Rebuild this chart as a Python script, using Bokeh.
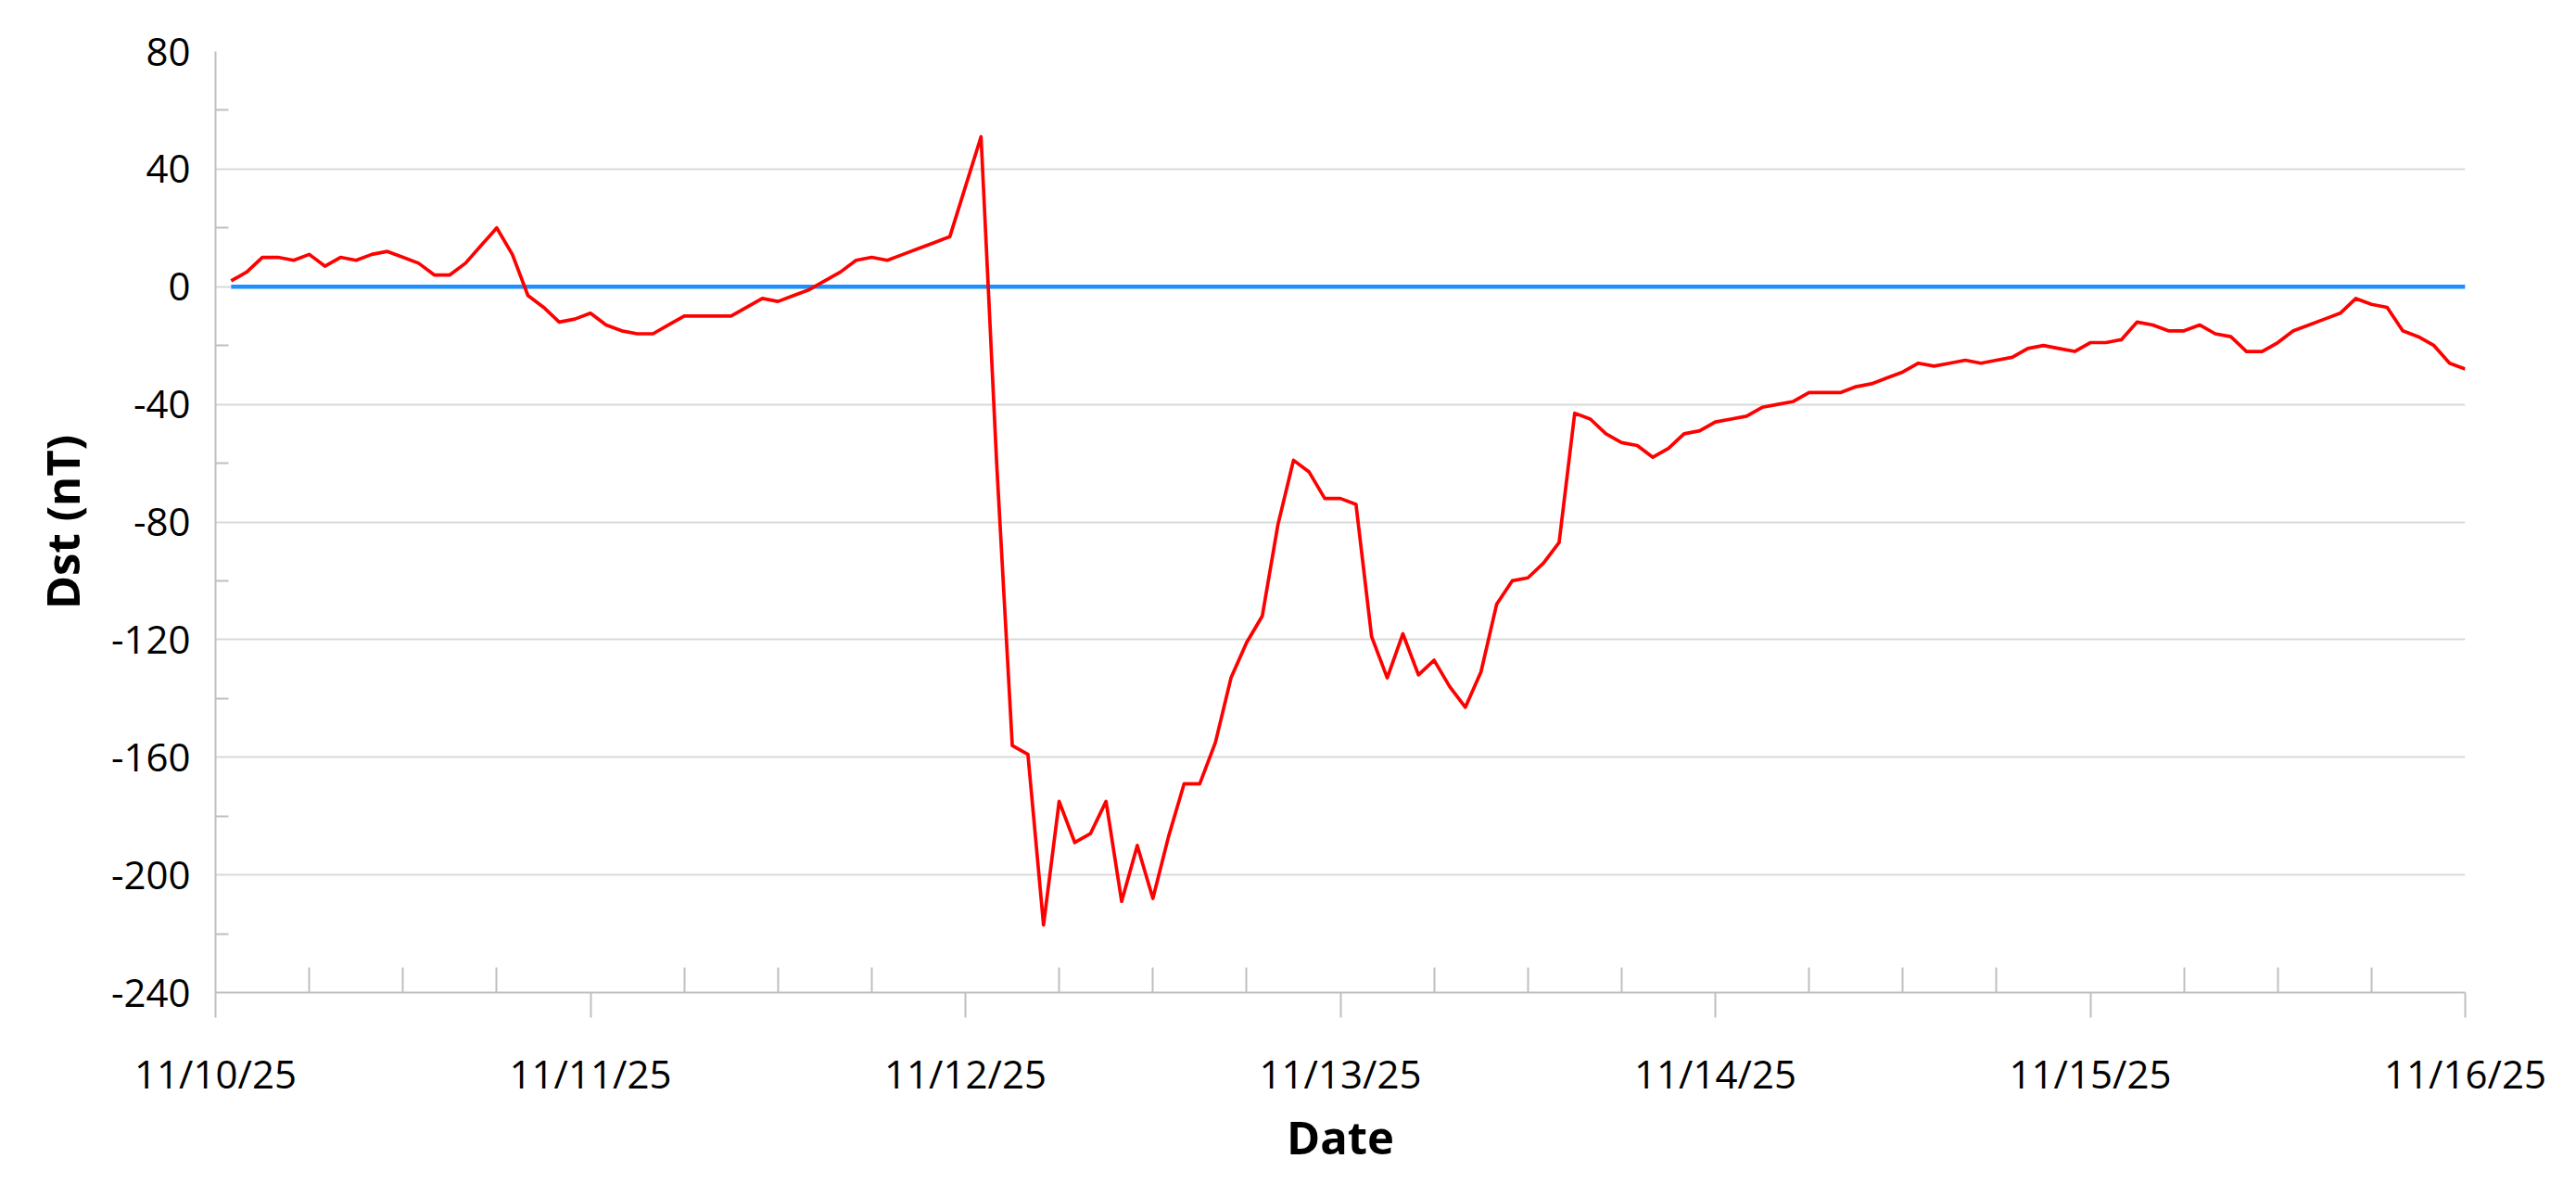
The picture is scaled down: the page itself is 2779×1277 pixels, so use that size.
import pandas as pd
from bokeh.plotting import figure
from bokeh.models import Range1d, FixedTicker, DatetimeTickFormatter, ColumnDataSource
from bokeh.embed import file_html
from bokeh.resources import INLINE

# Hourly Dst index (nT), first value at 2025-11-10 01:00 UT
first_hour = "2025-11-10 01:00"
dst = [
    2, 5, 10, 10, 9, 11, 7, 10, 9, 11, 12, 10,
    8, 4, 4, 8, 14, 20, 11, -3, -7, -12, -11, -9,
    -13, -15, -16, -16, -13, -10, -10, -10, -10, -7, -4, -5,
    -3, -1, 2, 5, 9, 10, 9, 11, 13, 15, 17, 34,
    51, -60, -156, -159, -217, -175, -189, -186, -175, -209, -190, -208,
    -187, -169, -169, -155, -133, -121, -112, -81, -59, -63, -72, -72,
    -74, -119, -133, -118, -132, -127, -136, -143, -131, -108, -100, -99,
    -94, -87, -43, -45, -50, -53, -54, -58, -55, -50, -49, -46,
    -45, -44, -41, -40, -39, -36, -36, -36, -34, -33, -31, -29,
    -26, -27, -26, -25, -26, -25, -24, -21, -20, -21, -22, -19,
    -19, -18, -12, -13, -15, -15, -13, -16, -17, -22, -22, -19,
    -15, -13, -11, -9, -4, -6, -7, -15, -17, -20, -26, -28,
]
baseline = [0] * len(dst)

day_labels = ["11/10/25", "11/11/25", "11/12/25", "11/13/25", "11/14/25", "11/15/25", "11/16/25"]
y_major = [-240, -200, -160, -120, -80, -40, 0, 40, 80]
y_minor = [-220, -180, -140, -100, -60, -20, 20, 60]

times = pd.date_range(first_hour, periods=len(dst), freq="h")
day_ts = [pd.Timestamp(pd.to_datetime(d, format="%m/%d/%y")) for d in day_labels]
day_ms = [t.timestamp() * 1000 for t in day_ts]
six_hourly = pd.date_range(day_ts[0], day_ts[-1], freq="6h")
minor_ms = [t.timestamp() * 1000 for t in six_hourly if t not in day_ts]

src = ColumnDataSource(dict(t=times, dst=dst, zero=baseline))

p = figure(
    x_axis_type="datetime",
    frame_width=2427, frame_height=1015,
    min_border_left=232, min_border_top=55, min_border_right=104, min_border_bottom=188,
    x_range=Range1d(day_ts[0], day_ts[-1]),
    y_range=Range1d(y_major[0], y_major[-1]),
    output_backend="svg", toolbar_location=None,
    background_fill_color="white", border_fill_color="white",
)
p.outline_line_color = None

p.line("t", "zero", source=src, line_color="#1E8FFF", line_width=4.3)
p.line("t", "dst", source=src, line_color="#FF0000", line_width=3.7, line_join="round")

axis_gray = "#BFBFBF"
font = "Open Sans"

# x axis
xa = p.xaxis[0]
xa.ticker = FixedTicker(ticks=day_ms, minor_ticks=minor_ms)
fmt = "%m/%d/%y"
xa.formatter = DatetimeTickFormatter(
    microseconds=fmt, milliseconds=fmt, seconds=fmt, minsec=fmt, minutes=fmt,
    hourmin=fmt, hours=fmt, days=fmt, months=fmt, years=fmt,
)
xa.axis_label = "Date"
xa.major_tick_in = 0
xa.major_tick_out = 27
xa.minor_tick_in = 27
xa.minor_tick_out = 0
xa.major_label_standoff = 31
xa.axis_label_standoff = 4

# y axis
ya = p.yaxis[0]
ya.ticker = FixedTicker(ticks=y_major, minor_ticks=y_minor)
ya.major_label_overrides = {v: str(v) for v in y_major}
ya.axis_label = "Dst (nT)"
ya.major_tick_in = 0
ya.major_tick_out = 0
ya.minor_tick_in = 14
ya.minor_tick_out = 0
ya.major_label_standoff = 27
ya.axis_label_standoff = 17

for ax in (xa, ya):
    ax.axis_line_color = axis_gray
    ax.axis_line_width = 2
    ax.major_tick_line_color = axis_gray
    ax.major_tick_line_width = 2
    ax.minor_tick_line_color = axis_gray
    ax.minor_tick_line_width = 2
    ax.major_label_text_font = font
    ax.major_label_text_font_size = "42px"
    ax.major_label_text_color = "black"
    ax.axis_label_text_font = font
    ax.axis_label_text_font_size = "49px"
    ax.axis_label_text_font_style = "bold"
    ax.axis_label_text_color = "black"

p.xgrid.visible = False
p.ygrid.grid_line_color = "#D9D9D9"
p.ygrid.grid_line_width = 2

open("out.html", "w").write(file_html(p, INLINE))
